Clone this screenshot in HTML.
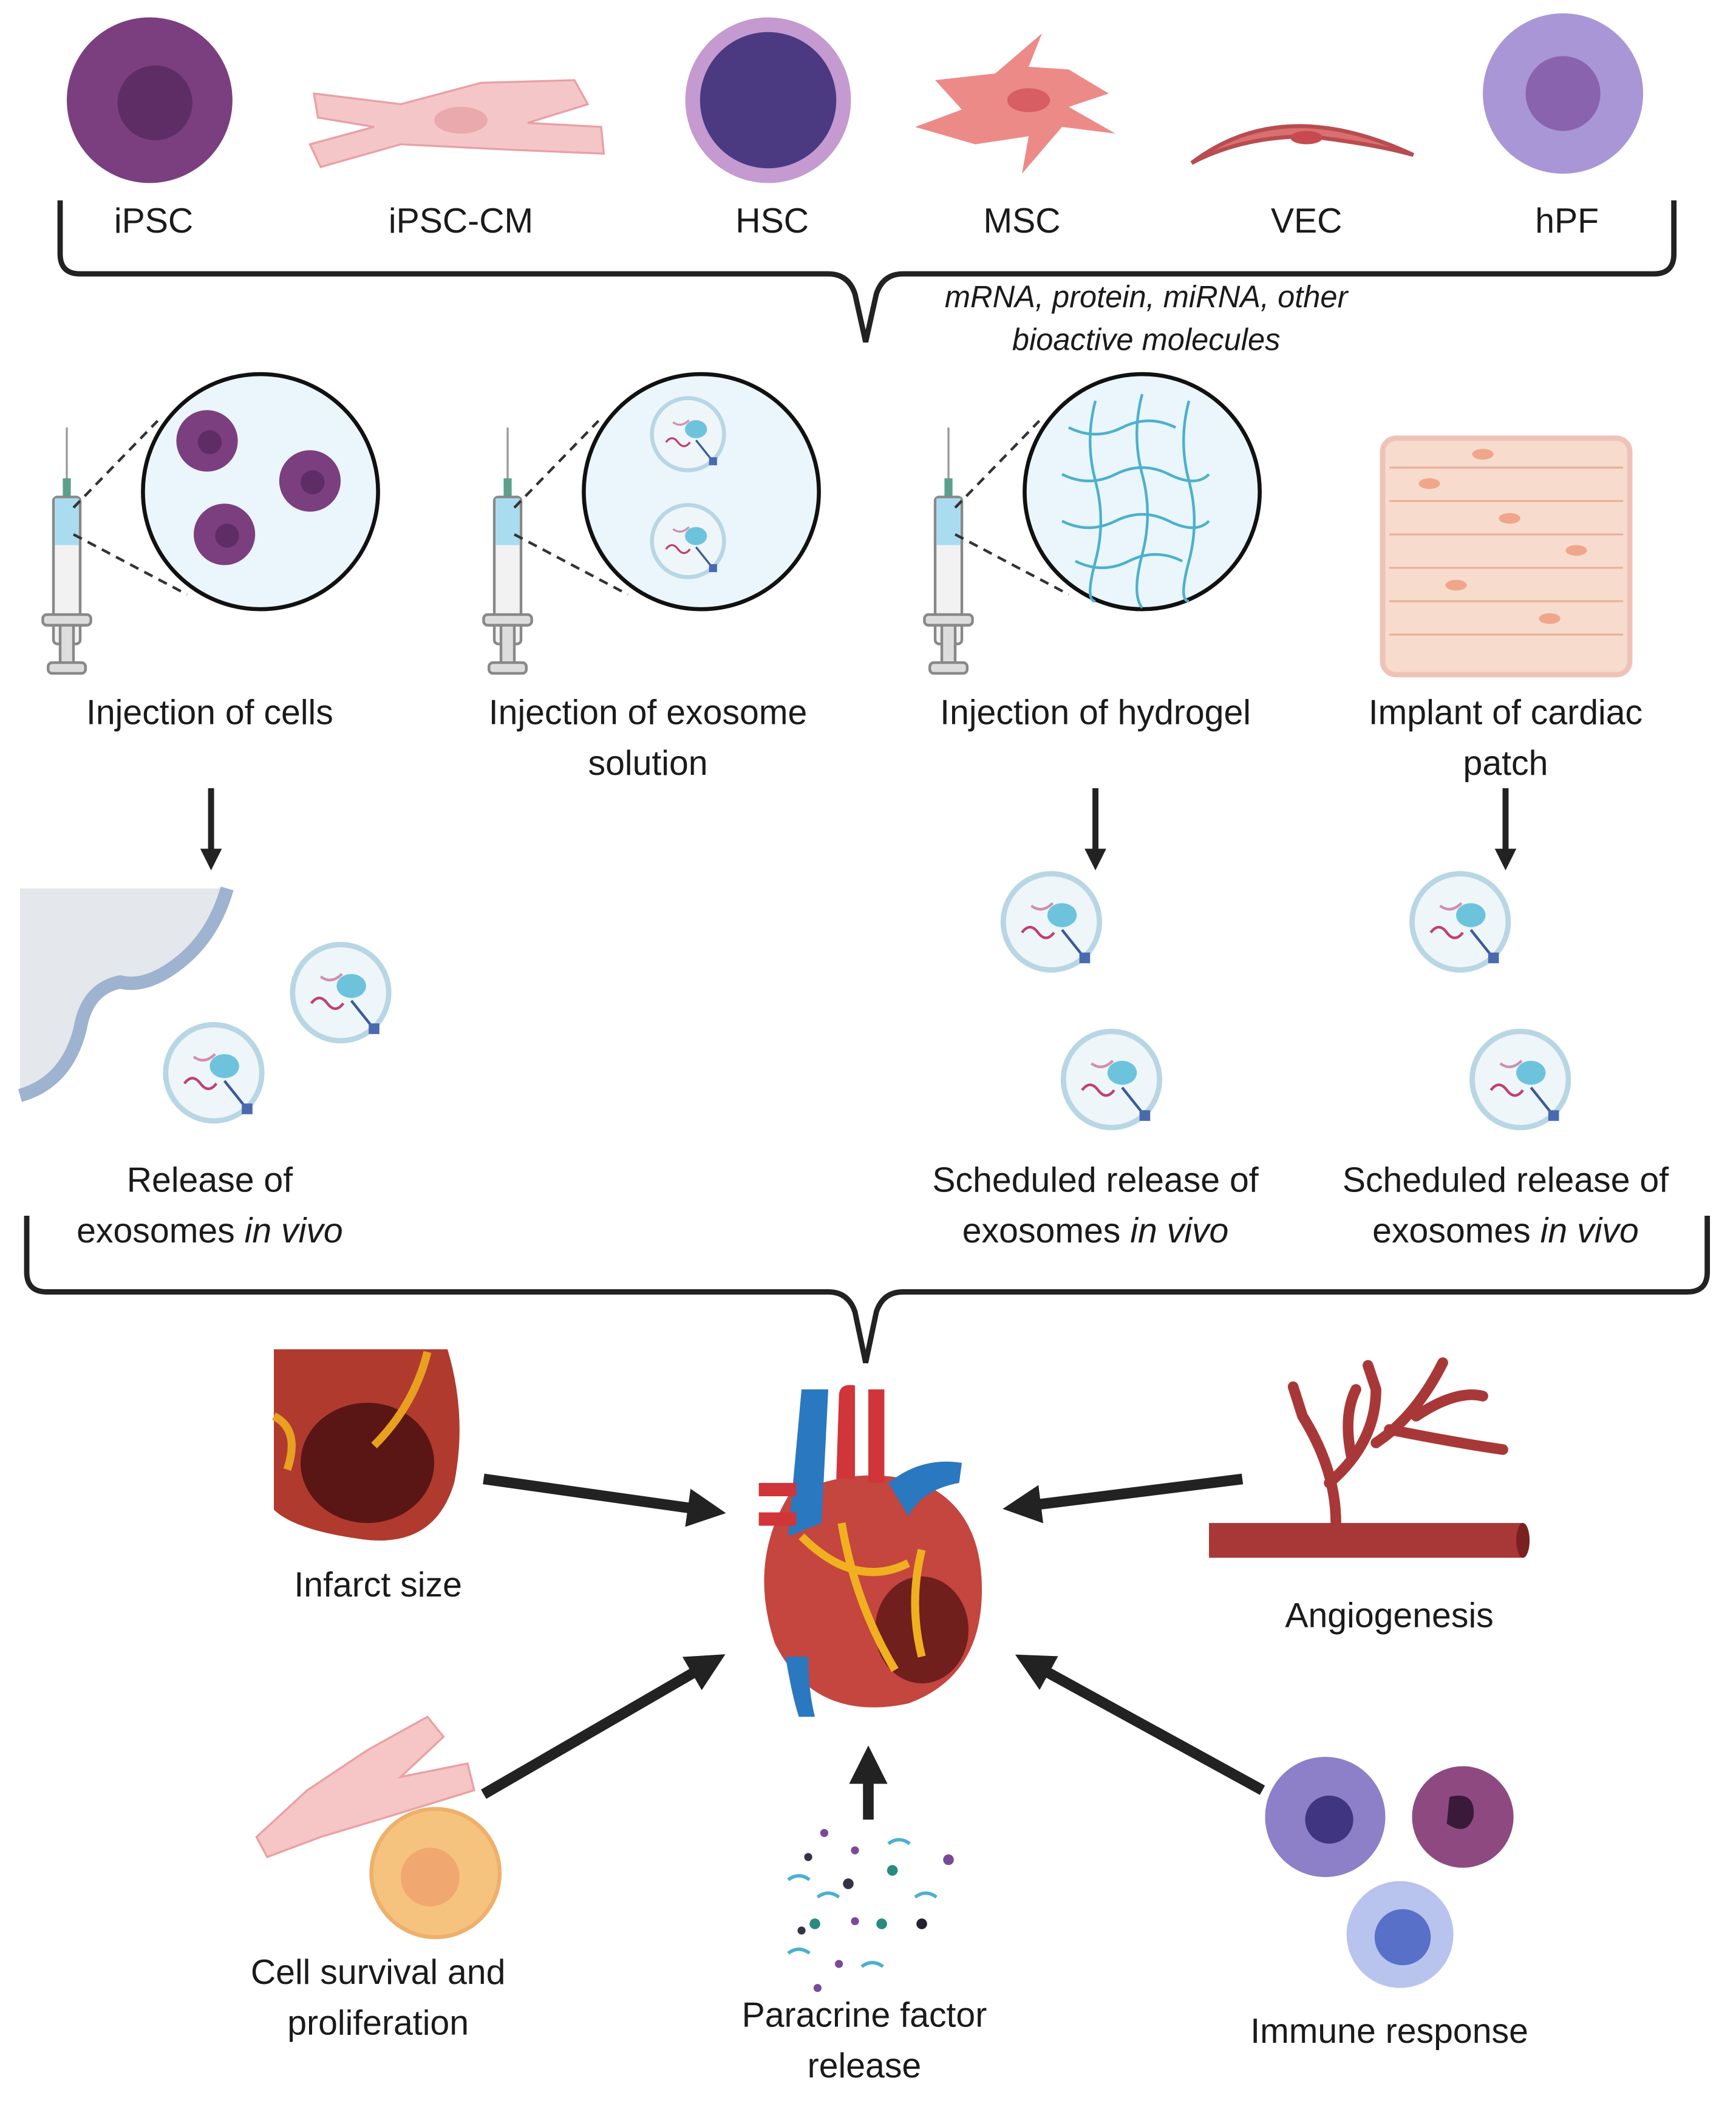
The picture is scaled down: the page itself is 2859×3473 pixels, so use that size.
<!DOCTYPE html>
<html><head><meta charset="utf-8"><style>
html,body{margin:0;padding:0;background:#fff}
svg{display:block}
text{font-family:"Liberation Sans","DejaVu Sans",sans-serif;fill:#1a1a1a}
</style></head><body>
<svg width="2859" height="3473" viewBox="0 0 1299.5 1578.6" xmlns="http://www.w3.org/2000/svg">
<defs>
<marker id="ah" viewBox="0 0 10 10" refX="6" refY="5" markerWidth="3.6" markerHeight="3.6" orient="auto"><path d="M0,0 L10,5 L0,10 Z" fill="#222"/></marker>
<g id="exo">
<circle r="36" fill="#eef6fa" stroke="#b8d6e4" stroke-width="4"/>
<ellipse cx="8" cy="-5" rx="11" ry="9" fill="#6ec3dc"/>
<path d="M-22,8 q6,-8 12,0 t12,0" stroke="#c04070" stroke-width="2" fill="none"/>
<path d="M-15,-12 q8,6 16,-2" stroke="#d090b0" stroke-width="2" fill="none"/>
<line x1="8" y1="6" x2="24" y2="26" stroke="#3a5a9a" stroke-width="2"/>
<rect x="21" y="23" width="8" height="8" fill="#4a6ab0"/>
</g>
<g id="syr">
<line x1="0" y1="0" x2="0" y2="50" stroke="#999" stroke-width="1.5"/>
<rect x="-3" y="38" width="6" height="14" fill="#5aa08a"/>
<rect x="-10" y="52" width="20" height="110" rx="3" fill="#f2f2f2" stroke="#888" stroke-width="2"/>
<rect x="-9" y="53" width="18" height="35" fill="#a9dcef"/>
<rect x="-18" y="140" width="36" height="8" rx="3" fill="#ddd" stroke="#888" stroke-width="2"/>
<rect x="-5" y="148" width="10" height="30" fill="#ddd" stroke="#888" stroke-width="2"/>
<rect x="-14" y="176" width="28" height="8" rx="3" fill="#ddd" stroke="#888" stroke-width="2"/>
</g>
</defs>

<!-- top cells -->
<circle cx="112" cy="75" r="62" fill="#7b3f80"/><circle cx="116" cy="77" r="28" fill="#5e2d66"/>
<path d="M235,70 L300,78 L360,62 L430,60 L440,78 L395,92 L450,95 L452,115 L380,112 L300,108 L240,125 L232,108 L280,95 L238,88 Z" fill="#f4c6c8" stroke="#e8a0a4" stroke-width="1.5"/>
<ellipse cx="345" cy="90" rx="20" ry="10" fill="#eaa9ac"/>
<circle cx="575" cy="75" r="62" fill="#c49ad0"/><circle cx="575" cy="75" r="51" fill="#4b3a82"/>
<path d="M700,60 L745,55 L780,25 L770,50 L800,52 L830,70 L800,80 L835,100 L795,95 L765,130 L770,102 L730,108 L685,95 L720,82 Z" fill="#ec8a88"/>
<ellipse cx="770" cy="75" rx="16" ry="9" fill="#d75e63"/>
<path d="M892,122 Q960,70 1058,116 Q1030,108 980,102 Q930,102 892,122 Z" fill="#d9706f" stroke="#b84c50" stroke-width="3"/>
<ellipse cx="978" cy="103" rx="12" ry="5" fill="#c64a4f"/>
<circle cx="1170" cy="70" r="60" fill="#a996d6"/><circle cx="1170" cy="70" r="28" fill="#8a63ae"/>

<g font-size="26" text-anchor="middle">
<text x="115" y="174">iPSC</text><text x="345" y="174">iPSC-CM</text><text x="578" y="174">HSC</text>
<text x="765" y="174">MSC</text><text x="978" y="174">VEC</text><text x="1173" y="174">hPF</text>
</g>
<path d="M45,150 L45,190 Q45,205 60,205 L620,205 Q635,205 640,220 L648,256 L656,220 Q661,205 676,205 L1238,205 Q1253,205 1253,190 L1253,150" fill="none" stroke="#222" stroke-width="4"/>
<g font-size="23" font-style="italic" text-anchor="middle">
<text x="858" y="230">mRNA, protein, miRNA, other</text><text x="858" y="262">bioactive molecules</text>
</g>

<!-- row 2 -->
<use href="#syr" x="50" y="320"/><use href="#syr" x="380" y="320"/><use href="#syr" x="710" y="320"/>
<g stroke="#333" stroke-width="2" stroke-dasharray="7,5">
<line x1="55" y1="380" x2="118" y2="315"/><line x1="55" y1="400" x2="140" y2="445"/>
<line x1="385" y1="380" x2="448" y2="315"/><line x1="385" y1="400" x2="470" y2="445"/>
<line x1="715" y1="380" x2="778" y2="315"/><line x1="715" y1="400" x2="800" y2="445"/>
</g>
<g stroke="#111" stroke-width="3" fill="#eaf6fb">
<circle cx="195" cy="368" r="88"/><circle cx="525" cy="368" r="88"/><circle cx="855" cy="368" r="88"/>
</g>
<g fill="#7b3f80"><circle cx="155" cy="330" r="23"/><circle cx="232" cy="360" r="23"/><circle cx="168" cy="400" r="23"/></g>
<g fill="#5e2d66"><circle cx="157" cy="331" r="9"/><circle cx="234" cy="361" r="9"/><circle cx="170" cy="401" r="9"/></g>
<use href="#exo" x="515" y="325" transform="translate(515 325) scale(0.75) translate(-515 -325)"/>
<use href="#exo" x="515" y="405" transform="translate(515 405) scale(0.75) translate(-515 -405)"/>
<g stroke="#4cb0cc" stroke-width="2" fill="none">
<path d="M800,320 q20,10 40,0 t40,0 M795,355 q20,10 40,0 t40,0 t30,0 M795,390 q20,10 40,0 t40,0 t30,0 M805,420 q20,10 40,0 t40,0"/>
<path d="M820,300 q-8,30 0,60 t0,60 t0,30 M855,295 q-8,30 0,60 t0,60 t0,40 M890,300 q-8,30 0,60 t0,60 t0,30"/>
</g>
<rect x="1035" y="328" width="185" height="177" rx="10" fill="#f7dccd" stroke="#efc2b8" stroke-width="4"/>
<g stroke="#eab09a" stroke-width="1.5" fill="none">
<path d="M1040,350 H1215 M1040,375 H1215 M1040,400 H1215 M1040,425 H1215 M1040,450 H1215 M1040,475 H1215"/>
</g>
<g fill="#f0a68a"><ellipse cx="1070" cy="362" rx="8" ry="4"/><ellipse cx="1130" cy="388" rx="8" ry="4"/><ellipse cx="1180" cy="412" rx="8" ry="4"/><ellipse cx="1090" cy="438" rx="8" ry="4"/><ellipse cx="1160" cy="463" rx="8" ry="4"/><ellipse cx="1110" cy="340" rx="8" ry="4"/></g>

<g font-size="26" text-anchor="middle">
<text x="157" y="542">Injection of cells</text>
<text x="485" y="542">Injection of exosome</text><text x="485" y="580">solution</text>
<text x="820" y="542">Injection of hydrogel</text>
<text x="1127" y="542">Implant of cardiac</text><text x="1127" y="580">patch</text>
</g>
<g stroke="#222" stroke-width="4.5" marker-end="url(#ah)">
<line x1="158" y1="590" x2="158" y2="645"/><line x1="820" y1="590" x2="820" y2="645"/><line x1="1127" y1="590" x2="1127" y2="645"/>
</g>

<path d="M15,665 L170,665 Q160,700 135,720 Q110,740 90,735 Q65,740 60,770 Q50,810 15,820 Z" fill="#e4e7eb"/>
<path d="M170,665 Q160,700 135,720 Q110,740 90,735 Q65,740 60,770 Q50,810 15,820" fill="none" stroke="#9db3cf" stroke-width="10"/>
<use href="#exo" x="255" y="743"/><use href="#exo" x="160" y="803"/>
<use href="#exo" x="787" y="690"/><use href="#exo" x="832" y="808"/>
<use href="#exo" x="1093" y="690"/><use href="#exo" x="1138" y="808"/>

<g font-size="26" text-anchor="middle">
<text x="157" y="892">Release of</text><text x="157" y="930">exosomes <tspan font-style="italic">in vivo</tspan></text>
<text x="820" y="892">Scheduled release of</text><text x="820" y="930">exosomes <tspan font-style="italic">in vivo</tspan></text>
<text x="1127" y="892">Scheduled release of</text><text x="1127" y="930">exosomes <tspan font-style="italic">in vivo</tspan></text>
</g>
<path d="M20,910 L20,952 Q20,967 35,967 L620,967 Q635,967 640,982 L648,1020 L656,982 Q661,967 676,967 L1263,967 Q1278,967 1278,952 L1278,910" fill="none" stroke="#222" stroke-width="4"/>

<!-- bottom -->
<path d="M205,1010 L335,1010 Q350,1060 340,1110 Q325,1160 270,1152 Q220,1145 205,1130 Z" fill="#b03a2e"/>
<ellipse cx="275" cy="1095" rx="50" ry="45" fill="#4a1010" opacity="0.85"/>
<path d="M205,1060 q20,10 10,40 M320,1012 q-10,40 -40,70" stroke="#e8a020" stroke-width="6" fill="none"/>
<text x="283" y="1195" font-size="26" text-anchor="middle">Infarct size</text>

<!-- heart -->
<path d="M590,1120 Q560,1170 580,1230 Q610,1290 680,1275 Q735,1255 735,1190 Q735,1130 690,1110 Q640,1095 590,1120 Z" fill="#c5453f"/>
<path d="M600,1040 L620,1040 L615,1140 L590,1150 Z" fill="#2a78c0"/>
<path d="M628,1045 q0,-10 12,-8 l0,70 h-14 Z M650,1040 h12 v70 h-12 Z" fill="#d0353a"/>
<path d="M665,1110 Q690,1090 720,1095 L718,1110 Q690,1115 680,1135 Z" fill="#2a78c0"/>
<path d="M568,1110 h28 v10 h-28 Z M568,1132 h28 v10 h-28 Z" fill="#d0353a"/>
<path d="M588,1240 q5,30 10,45 h12 q-5,-20 -5,-45 Z" fill="#2a78c0"/>
<ellipse cx="690" cy="1220" rx="35" ry="40" fill="#5a1515" opacity="0.8"/>
<path d="M600,1150 q40,40 80,20 M630,1140 q10,60 40,110 M690,1160 q-10,40 0,80" stroke="#f0b020" stroke-width="6" fill="none"/>

<path d="M905,1140 L1140,1140 L1140,1166 L905,1166 Z" fill="#a83838"/>
<ellipse cx="1140" cy="1153" rx="5" ry="13" fill="#7a2020"/>
<path d="M1000,1140 Q1000,1100 975,1060 M995,1110 Q1030,1080 1030,1040 M1030,1080 Q1060,1060 1080,1020 M1040,1070 Q1090,1080 1125,1085 M1060,1060 Q1090,1040 1110,1045 M1012,1092 Q1005,1060 1015,1040 M975,1060 L968,1038 M1030,1040 l-6,-18" stroke="#a83838" stroke-width="8" fill="none" stroke-linecap="round"/>
<text x="1040" y="1218" font-size="26" text-anchor="middle">Angiogenesis</text>

<path d="M192,1375 L230,1340 L275,1310 L320,1285 L332,1300 L300,1330 L350,1320 L355,1340 L290,1360 L240,1375 L200,1390 Z" fill="#f6c5c5" stroke="#eaa0a2" stroke-width="1.5"/>
<circle cx="326" cy="1402" r="48" fill="#f6c37e" stroke="#eeb06a" stroke-width="3"/><circle cx="322" cy="1405" r="22" fill="#f0a870"/>
<g font-size="26" text-anchor="middle"><text x="283" y="1485">Cell survival and</text><text x="283" y="1523">proliferation</text></g>

<g><circle cx="617" cy="1372" r="3" fill="#7a4a9a"/><circle cx="605" cy="1390" r="3" fill="#334"/><circle cx="640" cy="1385" r="3" fill="#7a4a9a"/><circle cx="668" cy="1400" r="4" fill="#2a8a80"/><circle cx="710" cy="1392" r="4" fill="#7a4a9a"/><circle cx="635" cy="1410" r="4" fill="#334"/><circle cx="690" cy="1440" r="4" fill="#223"/><circle cx="660" cy="1440" r="4" fill="#2a8a80"/><circle cx="610" cy="1440" r="4" fill="#2a8a80"/><circle cx="640" cy="1438" r="3" fill="#7a4a9a"/><circle cx="628" cy="1470" r="3" fill="#7a4a9a"/><circle cx="600" cy="1445" r="3" fill="#334"/><circle cx="612" cy="1488" r="3" fill="#7a4a9a"/></g>
<path d="M590,1407 q8,-6 16,0 M612,1420 q8,-6 16,0 M665,1380 q8,-6 16,0 M685,1420 q8,-6 16,0 M590,1462 q8,-6 16,0 M645,1472 q8,-6 16,0" stroke="#4cb0d0" stroke-width="2.5" fill="none"/>
<g font-size="26" text-anchor="middle"><text x="647" y="1517">Paracrine factor</text><text x="647" y="1555">release</text></g>

<circle cx="992" cy="1360" r="45" fill="#8d7fc8"/><circle cx="995" cy="1362" r="18" fill="#3f3580"/>
<circle cx="1095" cy="1360" r="38" fill="#8e4a80"/><path d="M1085,1345 q20,-5 18,15 q-5,15 -20,5" fill="#3a1a3a"/>
<circle cx="1048" cy="1448" r="40" fill="#b8c4ee"/><circle cx="1050" cy="1450" r="21" fill="#5870c8"/>
<text x="1040" y="1529" font-size="26" text-anchor="middle">Immune response</text>

<g stroke="#222" stroke-width="8" marker-end="url(#ah)">
<line x1="362" y1="1107" x2="532" y2="1131"/>
<line x1="930" y1="1107" x2="762" y2="1128"/>
<line x1="362" y1="1343" x2="533" y2="1244"/>
<line x1="945" y1="1340" x2="770" y2="1244"/>
<line x1="650" y1="1362" x2="650" y2="1318"/>
</g>
</svg>
</body></html>
